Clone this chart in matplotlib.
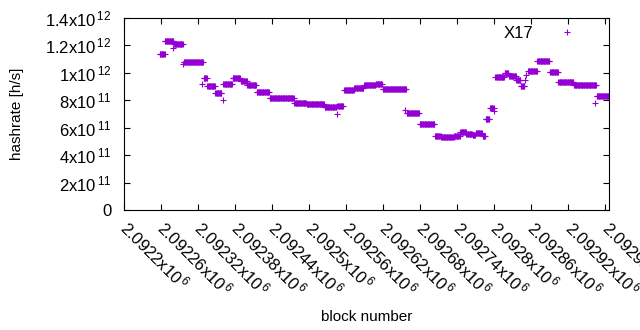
import numpy as np
import matplotlib
matplotlib.use("Agg")
import matplotlib.pyplot as plt

plt.rcParams['font.family'] = ['Liberation Sans', 'DejaVu Sans']
plt.rcParams['mathtext.default'] = 'regular'

# hashrate estimate per block, held constant between retargets
# (first block, last block, hashrate [h/s])
seg_start = [2092258, 2092266, 2092279, 2092281, 2092296, 2092297, 2092326, 2092329,
             2092335, 2092348, 2092360, 2092361, 2092376, 2092389, 2092400, 2092415,
             2092436, 2092476, 2092496, 2092525, 2092545, 2092546, 2092557, 2092573,
             2092589, 2092608, 2092619, 2092655, 2092658, 2092679, 2092704, 2092714,
             2092735, 2092745, 2092755, 2092765, 2092770, 2092781, 2092786, 2092793,
             2092800, 2092802, 2092817, 2092824, 2092836, 2092843, 2092850, 2092852,
             2092855, 2092870, 2092890, 2092904, 2092929, 2092964, 2092966]
seg_end = [2092266, 2092280, 2092279, 2092295, 2092296, 2092328, 2092326, 2092334,
           2092347, 2092358, 2092360, 2092375, 2092388, 2092399, 2092414, 2092435,
           2092475, 2092495, 2092524, 2092544, 2092545, 2092555, 2092572, 2092588,
           2092607, 2092618, 2092657, 2092655, 2092678, 2092703, 2092713, 2092734,
           2092744, 2092754, 2092764, 2092769, 2092780, 2092785, 2092792, 2092799,
           2092800, 2092816, 2092823, 2092835, 2092842, 2092849, 2092850, 2092852,
           2092869, 2092889, 2092903, 2092928, 2092965, 2092964, 2092986]
seg_value = [1.135e12, 1.230e12, 1.179e12, 1.208e12, 1.062e12, 1.077e12, 0.918e12, 0.960e12,
             0.904e12, 0.851e12, 0.800e12, 0.918e12, 0.964e12, 0.938e12, 0.909e12, 0.858e12,
             0.814e12, 0.778e12, 0.771e12, 0.749e12, 0.698e12, 0.756e12, 0.877e12, 0.889e12,
             0.909e12, 0.917e12, 0.880e12, 0.729e12, 0.705e12, 0.627e12, 0.542e12, 0.532e12,
             0.542e12, 0.571e12, 0.552e12, 0.545e12, 0.559e12, 0.542e12, 0.661e12, 0.741e12,
             0.724e12, 0.972e12, 0.997e12, 0.975e12, 0.948e12, 0.902e12, 0.948e12, 0.984e12,
             1.016e12, 1.084e12, 1.004e12, 0.931e12, 0.909e12, 0.778e12, 0.829e12]

blocks = []
hashrate = []
for s, e, v in zip(seg_start, seg_end, seg_value):
    for b in range(s, e + 1):
        blocks.append(b)
        hashrate.append(v)

x_ticks = [2092200 + 60 * i for i in range(14)]
y_ticks = [0, 2e11, 4e11, 6e11, 8e11, 1e12, 1.2e12, 1.4e12]
y_labels = ['0', '2x10$^{\\,11}$', '4x10$^{\\,11}$', '6x10$^{\\,11}$', '8x10$^{\\,11}$',
            '1x10$^{\\,12}$', '1.2x10$^{\\,12}$', '1.4x10$^{\\,12}$']


fig = plt.figure(figsize=(6.4, 3.3), dpi=100)
ax = fig.add_axes([124 / 640, 1 - 210 / 330, 485 / 640, 192 / 330])

ax.plot(blocks, hashrate, '+', color='#9400d3', markersize=5, markeredgewidth=0.8,
        label='X17')

ax.set_xlim(2092200, 2092986)
ax.set_ylim(0, 1.4e12)

ax.set_xticks(x_ticks)
ax.set_xticklabels(['%gx10$^{\\,6}$' % (t / 1e6) for t in x_ticks], rotation=-45,
                   ha='left', va='center', rotation_mode='anchor', fontsize=12)
ax.set_yticks(y_ticks)
ax.set_yticklabels(y_labels, fontsize=12)
ax.tick_params(direction='in', top=True, right=True, length=4)
ax.tick_params(axis='x', pad=10)
ax.tick_params(axis='y', pad=9)

ax.set_xlabel('block number', fontsize=11)
ax.set_ylabel('hashrate [h/s]', fontsize=11)
ax.xaxis.set_label_coords(0.5, -0.52)
ax.yaxis.set_label_coords(-0.206, 0.5)

ax.legend(loc='upper right', frameon=False, markerfirst=False, fontsize=12,
          handlelength=2.5, handletextpad=0.8, borderpad=0, borderaxespad=0,
          bbox_to_anchor=(588 / 640, 304 / 330), bbox_transform=fig.transFigure)

fig.savefig('out.png', dpi=100)
